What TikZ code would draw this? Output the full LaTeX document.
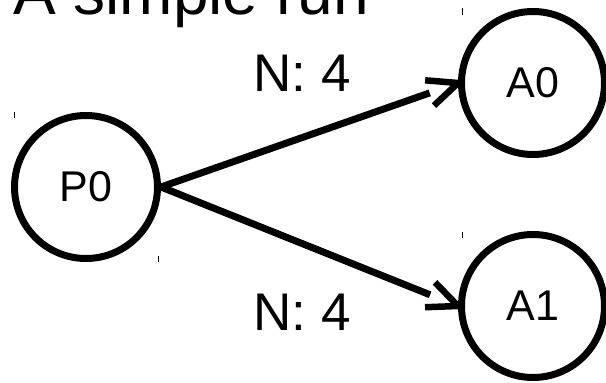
\documentclass[tikz,border=0pt]{standalone}
\usepackage{fontspec}
\setmainfont{Liberation Sans}
\usetikzlibrary{calc}

\tikzset{
  state/.style={draw, circle, line width=7pt, minimum size=143pt, inner sep=0pt,
    font=\fontsize{43}{47}\selectfont},
  link/.style={line width=7pt, shorten >=30pt},
  barb/.style={line width=6.5pt, line join=round},
  weight/.style={anchor=base, inner sep=0pt, font=\fontsize{53}{58}\selectfont},
  heading/.style={anchor=base west, inner sep=0pt, font=\fontsize{64}{70}\selectfont},
  corner/.style={line width=1pt}
}

\begin{document}
\begin{tikzpicture}[x=1pt, y=-1pt]
  \useasboundingbox (0,0) rectangle (606,383);

  % title
  \node[heading] (title) at (13,14) {A simple run};

  % processes
  \node[state] (P0) at (86,187) {P0};
  \node[state] (A0) at (533,83) {A0};
  \node[state] (A1) at (533,306) {A1};

  % small corner marks of the node boxes
  \draw[corner] (14,112) -- (14,118);
  \draw[corner] (158,256) -- (158,262);
  \draw[corner] (462,8) -- (462,15);
  \draw[corner] (462,232) -- (462,238);

  % connectors: shaft plus open barbed head
  \draw[link] (P0.east) -- (A0.west);
  \draw[barb] ($(A0.west)!33pt!24:(P0.east)$) -- (A0.west) -- ($(A0.west)!33pt!-24:(P0.east)$);
  \draw[link] (P0.east) -- (A1.west);
  \draw[barb] ($(A1.west)!33pt!24:(P0.east)$) -- (A1.west) -- ($(A1.west)!33pt!-24:(P0.east)$);

  % edge weights
  \node[weight] (w0) at (302,91) {N: 4};
  \node[weight] (w1) at (302,330) {N: 4};
\end{tikzpicture}
\end{document}
